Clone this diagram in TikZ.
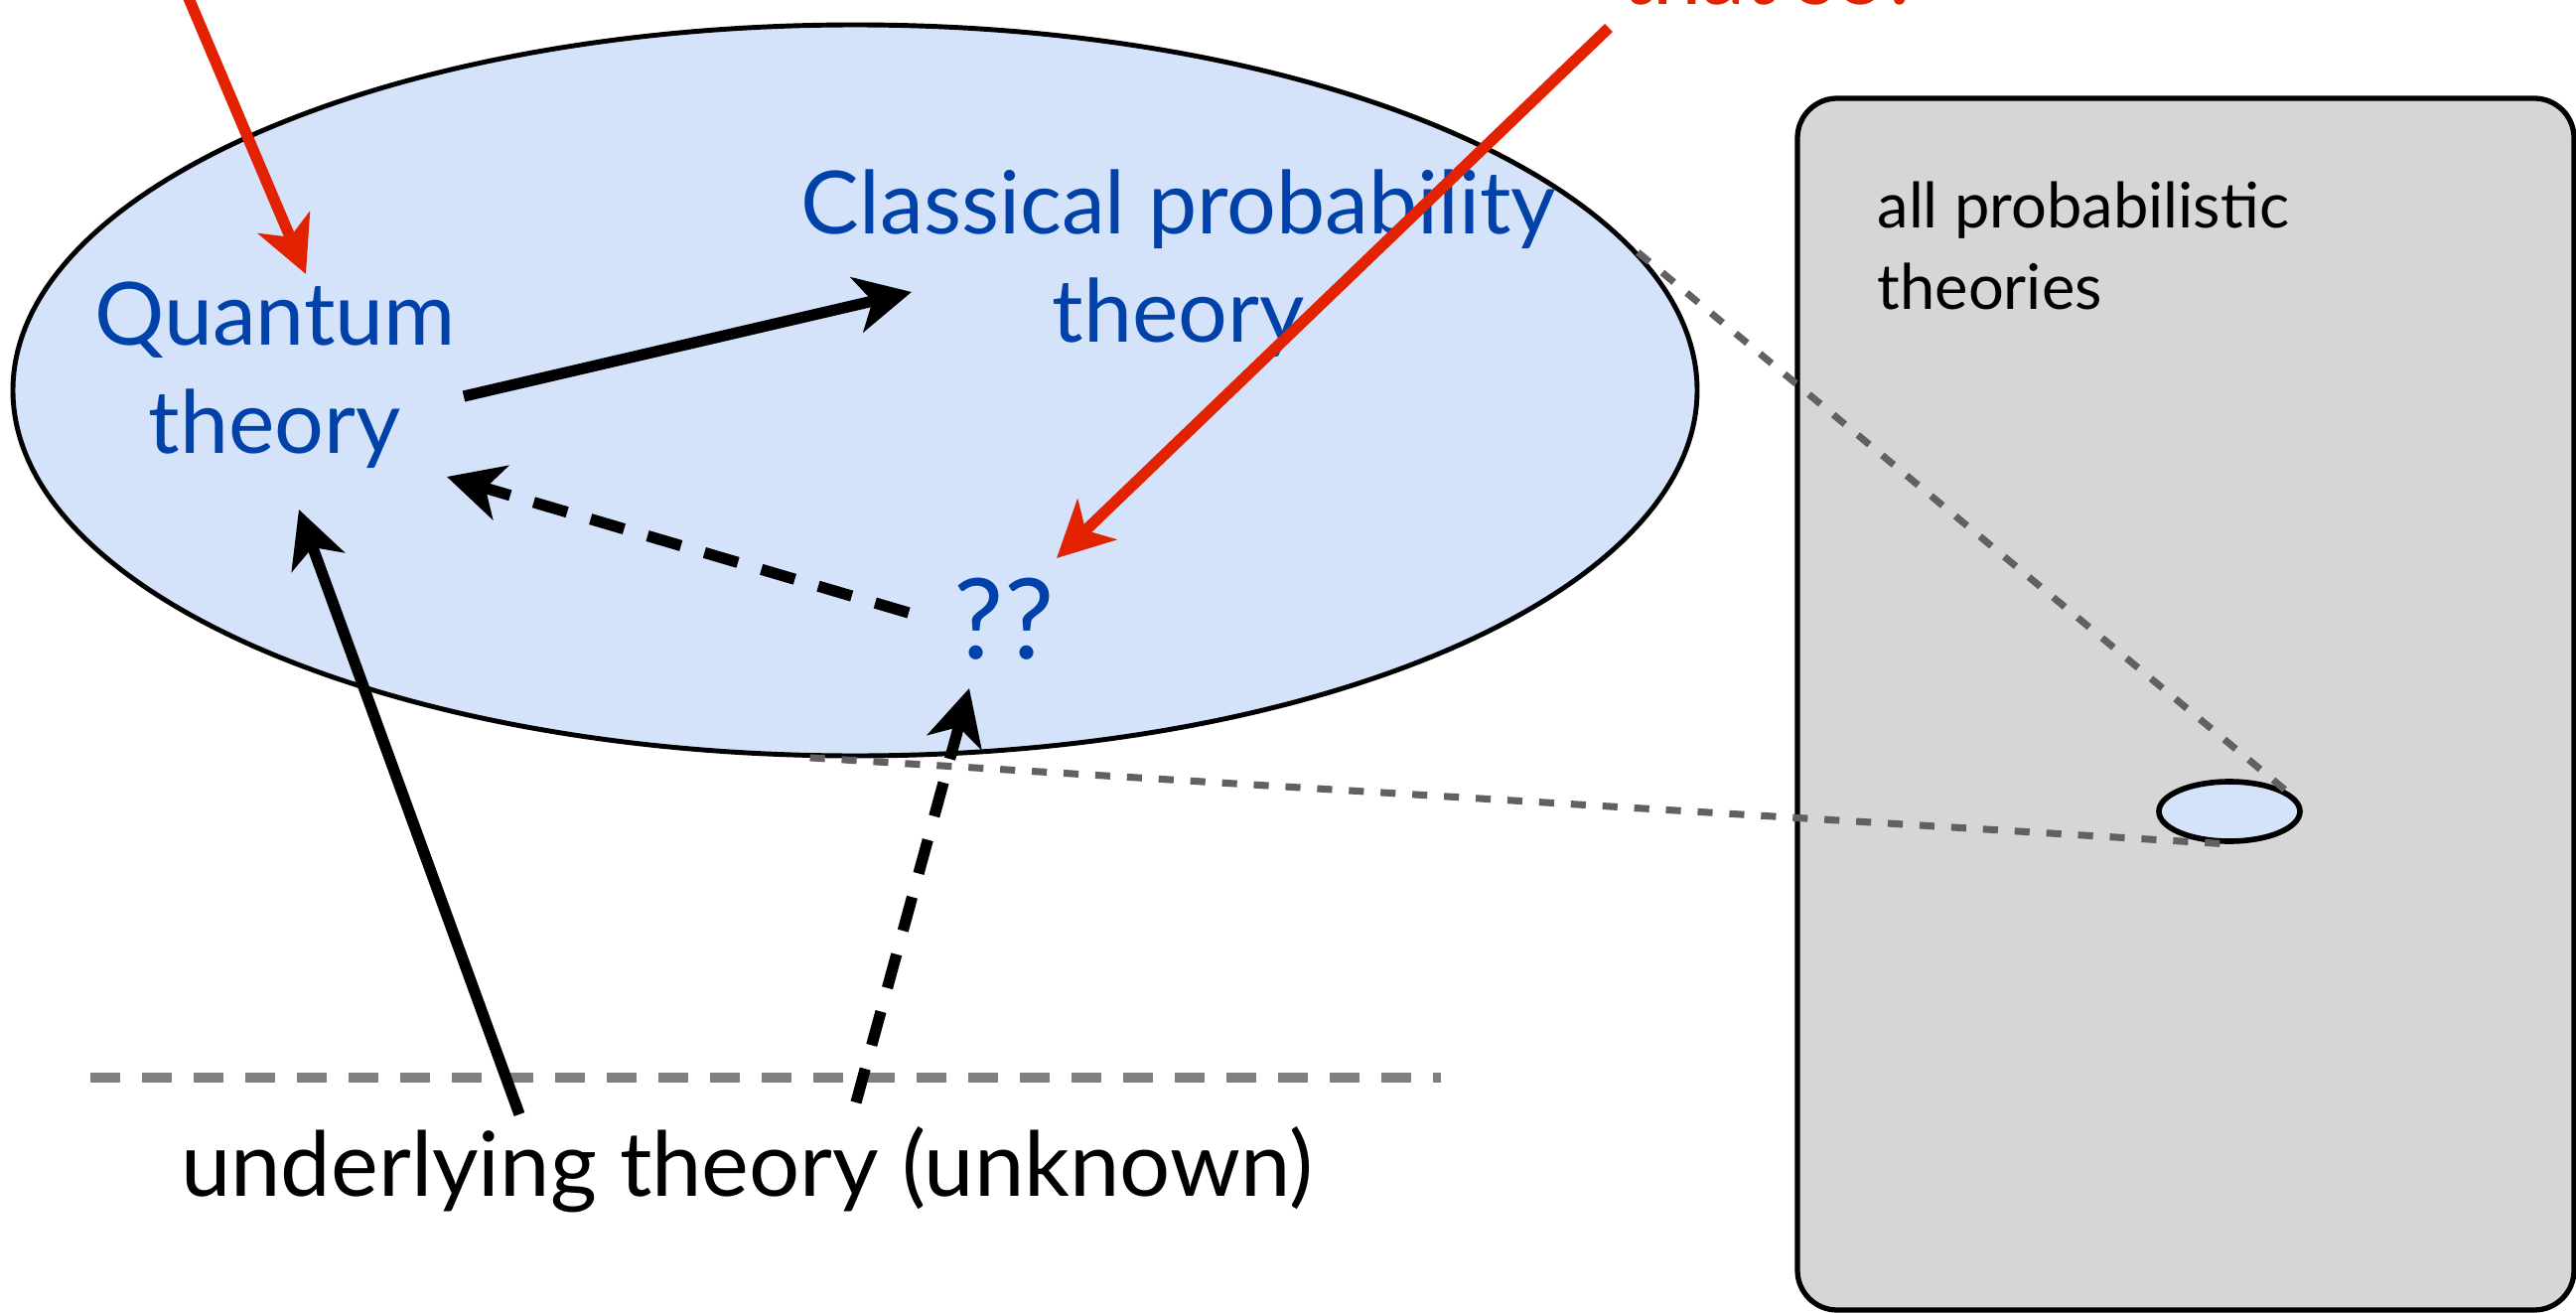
\documentclass[tikz,border=0pt]{standalone}
\usepackage{fontspec}
\setmainfont{Lato}
\usetikzlibrary{arrows.meta,shapes.geometric,positioning,calc}

\definecolor{setblue}{RGB}{212,226,250}
\definecolor{textblue}{RGB}{0,66,170}
\definecolor{hintred}{RGB}{226,34,0}
\definecolor{boxgray}{RGB}{214,214,214}

\begin{document}
\begin{tikzpicture}[
    theory/.style={inner sep=1pt, align=center, text=textblue, font=\fontsize{25}{31}\selectfont},
    boxlabel/.style={inner sep=1pt, align=left, font=\fontsize{18}{23.5}\selectfont},
    arr/.style={-{Stealth[length=16pt, width=16pt, inset=4.5pt]}, line width=3.2pt},
    darr/.style={arr, dash pattern=on 10pt off 7pt},
    redarr/.style={arr, hintred},
    zoomline/.style={draw=black!62, line width=2pt, dash pattern=on 4.3pt off 4.8pt},
    levelline/.style={draw=black!50, line width=3pt, dash pattern=on 8.5pt off 6.3pt}
]
\useasboundingbox (0,0) rectangle (25.94,-13.22);
\clip (0,0) rectangle (25.94,-13.22);

% the set of theories we know
\node[draw, line width=1.4pt, fill=setblue, ellipse, minimum width=16.96cm, minimum height=7.36cm, inner sep=0pt] (space) at (8.61,-3.93) {};

% all probabilistic theories
\node[draw, line width=1.5pt, fill=boxgray, rounded corners=0.4cm, minimum width=7.82cm, minimum height=12.2cm] (allbox) at (22.01,-7.09) {};
\node[boxlabel, below right=0.82cm and 0.79cm of allbox.north west] (alltext) {all probabilistic\\theories};
\node[draw, line width=1.6pt, fill=setblue, ellipse, minimum width=1.42cm, minimum height=0.6cm, inner sep=0pt] (tiny) at (22.45,-8.17) {};

\draw[zoomline] (space.10) -- (tiny.20);
\draw[zoomline] (space.263) -- (tiny.265);

\draw[levelline] (0.91,-10.85) -- (14.51,-10.85);

\node[theory] (quantum) at (2.77,-3.78) {Quantum\\theory};
\node[theory] (classical) at (11.87,-2.65) {Classical probability\\theory};
\node[theory, font=\fontsize{32}{36}\selectfont] (qq) at (10.11,-6.23) {??};
\node[inner sep=1pt, font=\fontsize{25.7}{31}\selectfont] (under) at (7.52,-11.78) {underlying theory (unknown)};
\node[theory, text=hintred, anchor=base] (why) at (17.84,-0.04) {that so?};

\coordinate (redtop1) at (1.78,0.30);
\coordinate (redtop2) at (16.20,-0.28);

% arrows
\draw[arr] ([shift={(1.90,-0.21)}]quantum.center) -- ([shift={(-2.69,-0.29)}]classical.center);
\draw[darr] ([shift={(-0.96,0.06)}]qq.center) -- ([shift={(1.73,-1.02)}]quantum.center);
\draw[arr] ([shift={(-2.29,0.56)}]under.center) -- ([shift={(0.24,-1.35)}]quantum.center);
\draw[darr] ([shift={(1.10,0.68)}]under.center) -- ([shift={(-0.35,-0.70)}]qq.center);
\draw[redarr] (redtop1) -- ([shift={(0.31,1.02)}]quantum.center);
\draw[redarr] (redtop2) -- ([shift={(0.53,0.61)}]qq.center);
\end{tikzpicture}
\end{document}
